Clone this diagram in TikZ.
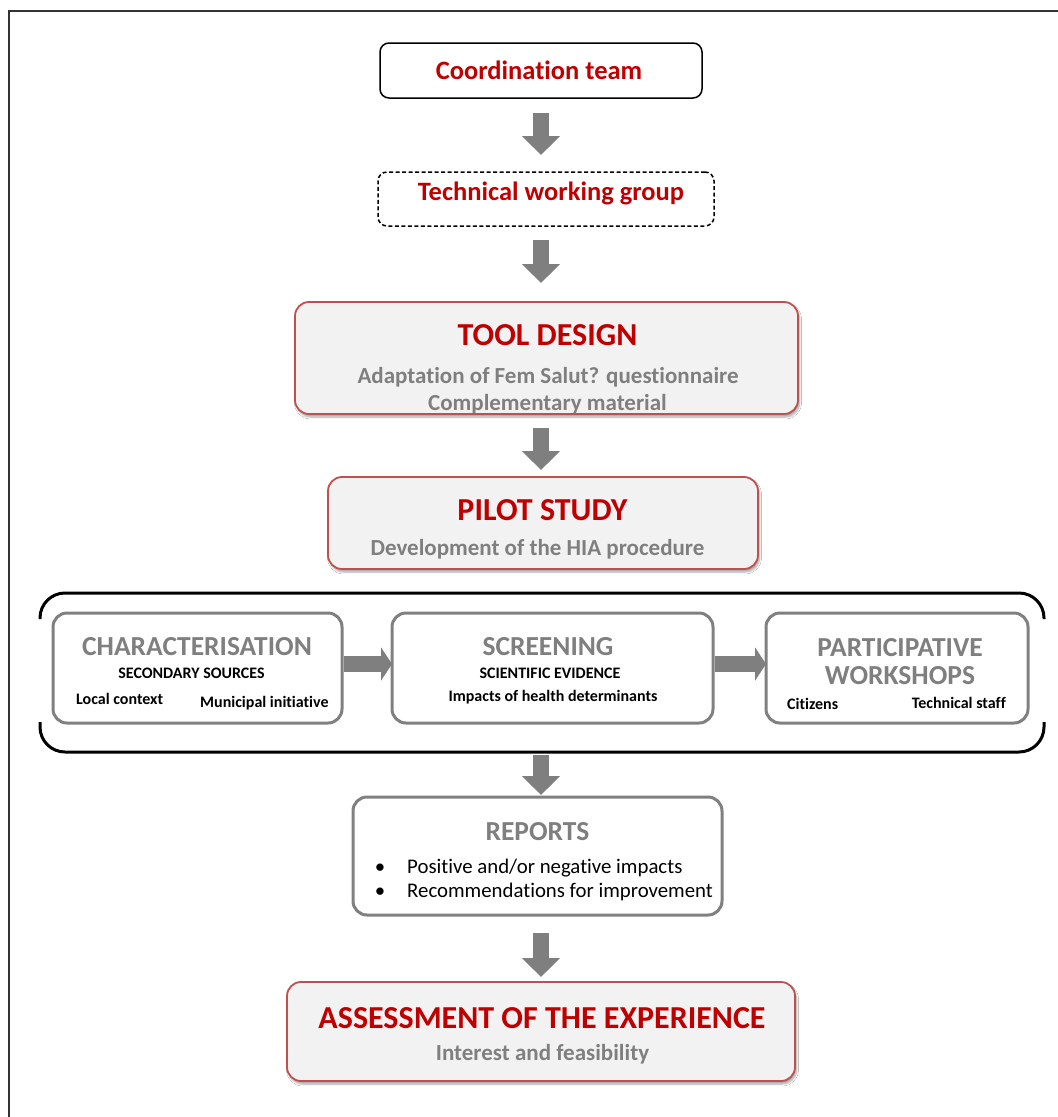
\documentclass[tikz,border=0pt]{standalone}
\usepackage{fontspec}
\setmainfont{Carlito}[Ligatures={NoCommon}]
\usetikzlibrary{arrows.meta,shadows.blur,calc}
\definecolor{hred}{HTML}{C00000}
\definecolor{bred}{HTML}{C0504D}
\definecolor{tgray}{HTML}{7F7F7F}
\definecolor{agray}{HTML}{7F7F7F}
\definecolor{bgray}{HTML}{808080}
\definecolor{fillg}{HTML}{F2F2F2}
\newcommand{\fs}[1]{\fontsize{#1pt}{#1pt}\selectfont}
\begin{document}
\begin{tikzpicture}[x=1pt,y=-1pt,
  topbox/.style={draw=black, line width=1.5pt, fill=white, rounded corners=9pt, inner sep=0pt, outer sep=0pt},
  dashbox/.style={topbox, dash pattern=on 4pt off 2.5pt},
  redbox/.style={draw=bred, line width=1.8pt, fill=fillg, rounded corners=14pt, inner sep=0pt, outer sep=0pt,
     blur shadow={shadow xshift=1.5pt, shadow yshift=-3pt, shadow opacity=35, shadow blur steps=6}},
  graybox/.style={draw=bgray, line width=3pt, fill=white, rounded corners=14pt, inner sep=0pt, outer sep=0pt},
  blockv/.style={draw=agray, line width=16pt, -{Triangle[width=37pt,length=19pt]}},
  blockh/.style={draw=agray, line width=16pt, -{Triangle[width=33pt,length=11pt]}},
  bracketline/.style={draw=black, line width=3pt, rounded corners=25pt},
  txt/.style={inner sep=0pt, anchor=base},
  redtitle/.style={txt, text=hred, font=\bfseries\fs{32}},
  redsmall/.style={txt, text=hred, font=\bfseries\fs{26.5}},
  graysub/.style={txt, text=tgray, font=\bfseries\fs{23}},
  graytitle/.style={txt, text=tgray, font=\bfseries\fs{27.5}},
  blacksmall/.style={txt, text=black, font=\bfseries\fs{16}},
  bodytext/.style={txt, text=black, font=\fs{20.8}}
]
\useasboundingbox (0,0) rectangle (1058,1117);
\fill[white] (0,0) rectangle (1058,1117);
% outer frame
\draw[line width=2pt, draw=black!80] (9,1117) -- (9,11) -- (1058,11);

% boxes
\node[topbox, minimum width=322pt, minimum height=55pt] (coord) at (541,70.5) {};
\node[dashbox, minimum width=336pt, minimum height=54pt] (tech) at (546,199) {};
\node[redbox, minimum width=503pt, minimum height=112pt] (tool) at (546.5,358) {};
\node[redbox, minimum width=430pt, minimum height=92pt] (pilot) at (543,523) {};
\node[minimum width=1004pt, minimum height=159pt, inner sep=0pt, outer sep=0pt] (phase) at (542,672.5) {};
\node[graybox, minimum width=289pt, minimum height=110pt] (char) at (197.5,668) {};
\node[graybox, minimum width=321pt, minimum height=110pt] (screen) at (552.5,668) {};
\node[graybox, minimum width=262pt, minimum height=110pt] (part) at (897,668) {};
\node[graybox, minimum width=369pt, minimum height=118pt] (reports) at (537.5,856) {};
\node[redbox, minimum width=508pt, minimum height=99pt] (assess) at (541,1031.5) {};

% bracket around the HIA phases
\draw[bracketline] ($(phase.north west)+(0,26)$) -- (phase.north west) -- (phase.north east) -- ($(phase.north east)+(0,26)$);
\draw[bracketline] ($(phase.south west)+(0,-30)$) -- (phase.south west) -- (phase.south east) -- ($(phase.south east)+(0,-30)$);

% vertical block arrows
\coordinate (ax) at (541,0);
\draw[blockv, shorten <=15pt, shorten >=17pt] (ax |- coord.south) -- (ax |- tech.north);
\draw[blockv, shorten <=14pt, shorten >=19pt] (ax |- tech.south) -- (ax |- tool.north);
\draw[blockv, shorten <=14pt, shorten >=7pt] (ax |- tool.south) -- (ax |- pilot.north);
\draw[blockv, shorten <=3pt, shorten >=2pt] (ax |- phase.south) -- (ax |- reports.north);
\draw[blockv, shorten <=18pt, shorten >=5pt] (ax |- reports.south) -- (ax |- assess.north);

% horizontal block arrows
\draw[blockh, shorten <=1.5pt] ([yshift=4pt]char.east) -- ([yshift=4pt]screen.west);
\draw[blockh, shorten <=1.5pt] ([yshift=4pt]screen.east) -- ([yshift=4pt]part.west);

% texts
\node[redsmall] (tcoord) at (539,79) {Coordination team};
\node[redsmall] (ttech) at (551,200) {Technical working group};

\node[redtitle] (ttool) at (547.5,345) {TOOL DESIGN};
\node[graysub] (ttool1) at (548,383) {Adaptation of Fem Salut? questionnaire};
\node[graysub] (ttool2) at (547.5,410) {Complementary material};

\node[redtitle] (tpilot) at (542.5,520) {PILOT STUDY};
\node[graysub] (tpilot1) at (537.5,555) {Development of the HIA procedure};

\node[graytitle] (tchar) at (197,655) {CHARACTERISATION};
\node[blacksmall] (tchar1) at (191.5,678) {SECONDARY SOURCES};
\node[blacksmall, anchor=base west] (tchar2) at (76,704) {Local context};
\node[blacksmall, anchor=base west] (tchar3) at (200,707) {Municipal initiative};

\node[graytitle] (tscreen) at (548,655) {SCREENING};
\node[blacksmall] (tscreen1) at (550,678) {SCIENTIFIC EVIDENCE};
\node[blacksmall] (tscreen2) at (553,701) {Impacts of health determinants};

\node[graytitle] (tpart) at (900,656) {PARTICIPATIVE};
\node[graytitle] (tpart1) at (900,684) {WORKSHOPS};
\node[blacksmall, anchor=base west] (tpart2) at (787,709) {Citizens};
\node[blacksmall, anchor=base east] (tpart3) at (1006,708) {Technical staff};

\node[graytitle] (trep) at (537.5,840) {REPORTS};
\node[bodytext] (b1) at (380,873) {•};
\node[bodytext] (b2) at (380,897) {•};
\node[bodytext, anchor=base west] (trep1) at (407,873) {Positive and/or negative impacts};
\node[bodytext, anchor=base west] (trep2) at (407,897) {Recommendations for improvement};

\node[redtitle] (tassess) at (542,1028) {ASSESSMENT OF THE EXPERIENCE};
\node[graysub] (tassess1) at (542.5,1060) {Interest and feasibility};
\end{tikzpicture}
\end{document}
